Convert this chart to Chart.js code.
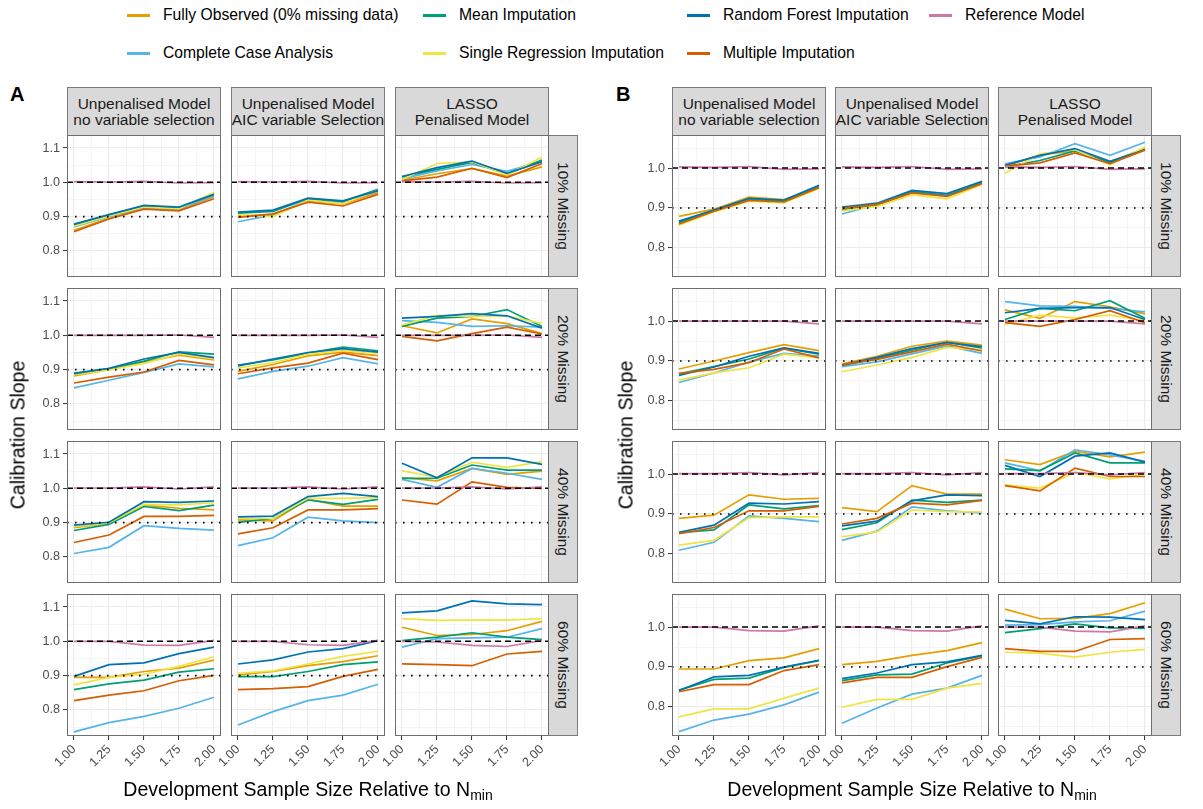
<!DOCTYPE html>
<html>
<head>
<meta charset="utf-8">
<script src="https://cdn.jsdelivr.net/npm/chart.js@4.4.0/dist/chart.umd.min.js"></script>
<style>
  body { margin: 0; background: #fff; font-family: "Liberation Sans", Arial, sans-serif; }
  #fig { position: relative; width: 1203px; height: 809px; overflow: hidden; }
  #fig canvas { position: absolute; }
  .strip { position: absolute; background: #d9d9d9; border: 1px solid #7a7a7a; box-sizing: border-box;
           color: #1a1a1a; font-size: 15.5px; line-height: 16px; text-align: center; white-space: nowrap;
           overflow: hidden; display: flex; align-items: center; justify-content: center; }
  .rstrip span { display: block; transform: rotate(90deg); white-space: nowrap; }
  .txt { position: absolute; white-space: nowrap; color: #000; }
  .key { position: absolute; height: 2.5px; width: 23px; }
</style>
</head>
<body>
<div id="fig"></div>
<script>
// x values and tick labels
const sampleSizes = [1.00, 1.25, 1.50, 1.75, 2.00];
const xMajor = [1.00, 1.25, 1.50, 1.75, 2.00];
const xMinor = [1.125, 1.375, 1.625, 1.875];
const yMajorA = [0.8, 0.9, 1.0, 1.1];
const yMajorB = [0.8, 0.9, 1.0];
const yMinor = [0.75, 0.85, 0.95, 1.05];
const yRangeA = [0.724, 1.138];
const yRangeB = [0.727, 1.083];
const xRange = [0.95, 2.05];
const refLine = 1.0;
const targetLine = 0.9;

const modelLabels = [
  ["Unpenalised Model", "no variable selection"],
  ["Unpenalised Model", "AIC variable Selection"],
  ["LASSO", "Penalised Model"]
];
const missingLabels = ["10% Missing", "20% Missing", "40% Missing", "60% Missing"];
const methods = ["Fully Observed (0% missing data)", "Complete Case Analysis", "Mean Imputation",
  "Single Regression Imputation", "Random Forest Imputation", "Multiple Imputation", "Reference Model"];
const methodColours = ["#E69F00", "#56B4E9", "#009E73", "#F0E442", "#0072B2", "#D55E00", "#CC79A7"];

// each array: 12 facets (10%, 20%, 40%, 60% missing; x 3 models) with 5 sample sizes
// ---- panel A ----
const fullyObsA = [
  [0.860, 0.895, 0.925, 0.920, 0.958], [0.902, 0.905, 0.945, 0.937, 0.970], [1.006, 1.025, 1.040, 1.018, 1.045],
  [0.882, 0.900, 0.922, 0.942, 0.928], [0.895, 0.915, 0.940, 0.951, 0.941], [1.028, 1.007, 1.048, 1.034, 1.005],
  [0.885, 0.898, 0.951, 0.942, 0.937], [0.908, 0.905, 0.968, 0.948, 0.948], [1.031, 1.022, 1.058, 1.041, 1.050],
  [0.895, 0.895, 0.912, 0.922, 0.945], [0.902, 0.912, 0.929, 0.941, 0.958], [1.041, 1.017, 1.020, 1.031, 1.058]
];
const completeCaseA = [
  [0.870, 0.900, 0.927, 0.922, 0.962], [0.885, 0.905, 0.948, 0.940, 0.975], [1.010, 1.033, 1.052, 1.032, 1.062],
  [0.847, 0.869, 0.892, 0.917, 0.908], [0.873, 0.895, 0.910, 0.935, 0.917], [1.043, 1.038, 1.026, 1.028, 1.024],
  [0.810, 0.828, 0.891, 0.883, 0.878], [0.833, 0.856, 0.916, 0.905, 0.900], [1.026, 1.003, 1.058, 1.044, 1.026],
  [0.736, 0.763, 0.781, 0.805, 0.837], [0.756, 0.795, 0.827, 0.843, 0.875], [0.983, 1.008, 1.010, 1.012, 1.037]
];
const meanImpA = [
  [0.876, 0.905, 0.930, 0.925, 0.968], [0.910, 0.915, 0.952, 0.944, 0.980], [1.016, 1.038, 1.058, 1.024, 1.065],
  [0.890, 0.903, 0.925, 0.952, 0.945], [0.913, 0.928, 0.948, 0.966, 0.955], [1.026, 1.050, 1.055, 1.075, 1.026],
  [0.877, 0.895, 0.947, 0.935, 0.951], [0.901, 0.912, 0.966, 0.953, 0.968], [1.029, 1.030, 1.068, 1.053, 1.053],
  [0.859, 0.876, 0.887, 0.910, 0.920], [0.897, 0.897, 0.912, 0.932, 0.940], [1.002, 1.012, 1.025, 1.012, 1.005]
];
const singleRegA = [
  [0.872, 0.902, 0.928, 0.923, 0.970], [0.905, 0.900, 0.948, 0.938, 0.977], [1.008, 1.055, 1.060, 1.022, 1.073],
  [0.885, 0.899, 0.918, 0.946, 0.932], [0.905, 0.920, 0.945, 0.956, 0.948], [1.030, 1.058, 1.055, 1.057, 1.034],
  [0.888, 0.899, 0.953, 0.952, 0.958], [0.912, 0.912, 0.971, 0.971, 0.973], [1.051, 1.033, 1.076, 1.061, 1.078],
  [0.873, 0.895, 0.904, 0.927, 0.955], [0.907, 0.914, 0.934, 0.956, 0.971], [1.066, 1.061, 1.062, 1.062, 1.066]
];
const randomForestA = [
  [0.878, 0.906, 0.933, 0.928, 0.965], [0.913, 0.919, 0.954, 0.946, 0.976], [1.017, 1.043, 1.062, 1.026, 1.060],
  [0.888, 0.904, 0.931, 0.950, 0.935], [0.911, 0.931, 0.950, 0.961, 0.951], [1.050, 1.055, 1.063, 1.057, 1.021],
  [0.893, 0.901, 0.961, 0.959, 0.963], [0.917, 0.919, 0.976, 0.985, 0.976], [1.073, 1.031, 1.089, 1.089, 1.070],
  [0.898, 0.932, 0.937, 0.964, 0.983], [0.934, 0.946, 0.969, 0.979, 1.002], [1.083, 1.089, 1.118, 1.109, 1.107]
];
const multipleImpA = [
  [0.856, 0.893, 0.922, 0.917, 0.952], [0.898, 0.908, 0.942, 0.931, 0.965], [1.004, 1.015, 1.041, 1.014, 1.055],
  [0.861, 0.878, 0.893, 0.927, 0.914], [0.888, 0.905, 0.919, 0.948, 0.929], [0.997, 0.984, 1.005, 1.024, 1.004],
  [0.842, 0.864, 0.918, 0.918, 0.921], [0.867, 0.885, 0.937, 0.937, 0.941], [0.966, 0.954, 1.019, 1.003, 1.000],
  [0.827, 0.843, 0.856, 0.885, 0.901], [0.859, 0.862, 0.868, 0.898, 0.918], [0.934, 0.932, 0.929, 0.963, 0.971]
];
const referenceA = [
  [1.002, 1.001, 1.003, 0.998, 0.999], [1.002, 1.001, 1.003, 0.998, 0.999], [1.002, 1.001, 1.003, 0.998, 0.999],
  [1.000, 1.000, 1.000, 1.001, 0.994], [1.000, 1.000, 1.000, 1.001, 0.994], [1.000, 1.000, 1.000, 1.001, 0.994],
  [1.001, 1.001, 1.004, 0.998, 1.004], [1.001, 1.001, 1.004, 0.998, 1.004], [1.001, 1.001, 1.004, 0.998, 1.004],
  [1.000, 1.000, 0.989, 0.988, 1.003], [1.000, 1.000, 0.990, 0.988, 1.003], [1.000, 0.998, 0.988, 0.985, 1.003]
];
// ---- panel B ----
const fullyObsB = [
  [0.879, 0.897, 0.927, 0.921, 0.951], [0.897, 0.908, 0.939, 0.930, 0.963], [1.005, 1.033, 1.043, 1.015, 1.050],
  [0.880, 0.900, 0.921, 0.941, 0.926], [0.893, 0.912, 0.937, 0.950, 0.940], [1.028, 1.007, 1.049, 1.036, 1.018],
  [0.889, 0.897, 0.948, 0.937, 0.939], [0.916, 0.906, 0.971, 0.950, 0.950], [1.036, 1.024, 1.057, 1.043, 1.055],
  [0.895, 0.895, 0.916, 0.923, 0.946], [0.906, 0.914, 0.929, 0.941, 0.961], [1.045, 1.021, 1.022, 1.034, 1.061]
];
const completeCaseB = [
  [0.862, 0.893, 0.921, 0.917, 0.953], [0.885, 0.909, 0.941, 0.932, 0.965], [1.011, 1.028, 1.061, 1.032, 1.065],
  [0.846, 0.870, 0.897, 0.919, 0.912], [0.886, 0.898, 0.918, 0.938, 0.919], [1.049, 1.038, 1.037, 1.032, 1.023],
  [0.809, 0.829, 0.895, 0.889, 0.881], [0.834, 0.857, 0.918, 0.908, 0.903], [1.028, 1.008, 1.061, 1.048, 1.032],
  [0.738, 0.767, 0.782, 0.805, 0.837], [0.759, 0.797, 0.832, 0.847, 0.879], [1.005, 1.006, 1.013, 1.016, 1.040]
];
const meanImpB = [
  [0.864, 0.894, 0.921, 0.917, 0.955], [0.895, 0.907, 0.941, 0.931, 0.964], [1.003, 1.019, 1.043, 1.013, 1.047],
  [0.868, 0.886, 0.905, 0.932, 0.917], [0.889, 0.906, 0.927, 0.947, 0.932], [1.004, 1.032, 1.026, 1.051, 1.007],
  [0.853, 0.860, 0.923, 0.913, 0.921], [0.861, 0.878, 0.935, 0.929, 0.935], [1.013, 1.009, 1.053, 1.028, 1.028],
  [0.842, 0.869, 0.872, 0.899, 0.916], [0.866, 0.880, 0.882, 0.910, 0.928], [0.986, 0.996, 1.008, 0.998, 0.997]
];
const singleRegB = [
  [0.857, 0.890, 0.917, 0.913, 0.949], [0.893, 0.904, 0.933, 0.923, 0.959], [0.987, 1.036, 1.046, 1.008, 1.053],
  [0.852, 0.870, 0.883, 0.917, 0.908], [0.873, 0.890, 0.909, 0.934, 0.928], [0.992, 1.015, 1.008, 1.015, 1.001],
  [0.822, 0.834, 0.891, 0.893, 0.893], [0.843, 0.855, 0.910, 0.906, 0.905], [0.973, 0.965, 1.004, 0.988, 1.000],
  [0.775, 0.795, 0.795, 0.822, 0.847], [0.799, 0.819, 0.819, 0.847, 0.859], [0.937, 0.935, 0.925, 0.937, 0.944]
];
const randomForestB = [
  [0.867, 0.895, 0.924, 0.920, 0.957], [0.902, 0.912, 0.944, 0.936, 0.967], [1.007, 1.032, 1.049, 1.017, 1.046],
  [0.864, 0.885, 0.912, 0.933, 0.919], [0.890, 0.909, 0.931, 0.946, 0.936], [1.021, 1.032, 1.034, 1.034, 1.004],
  [0.854, 0.872, 0.927, 0.925, 0.931], [0.870, 0.882, 0.933, 0.948, 0.946], [1.022, 0.994, 1.045, 1.053, 1.030],
  [0.841, 0.875, 0.879, 0.900, 0.917], [0.871, 0.885, 0.906, 0.913, 0.929], [1.017, 1.008, 1.026, 1.025, 1.019]
];
const multipleImpB = [
  [0.860, 0.892, 0.919, 0.915, 0.951], [0.899, 0.909, 0.938, 0.929, 0.961], [1.005, 1.013, 1.038, 1.011, 1.045],
  [0.869, 0.879, 0.896, 0.930, 0.908], [0.891, 0.904, 0.923, 0.942, 0.925], [0.996, 0.987, 1.004, 1.026, 0.996],
  [0.851, 0.866, 0.908, 0.908, 0.919], [0.875, 0.889, 0.927, 0.923, 0.934], [0.971, 0.958, 1.015, 0.994, 0.994],
  [0.838, 0.856, 0.856, 0.891, 0.906], [0.860, 0.874, 0.874, 0.901, 0.924], [0.946, 0.939, 0.939, 0.969, 0.971]
];
const referenceB = [
  [1.003, 1.002, 1.004, 0.997, 0.998], [1.003, 1.002, 1.004, 0.997, 0.998], [1.003, 1.002, 1.004, 0.997, 0.998],
  [1.000, 1.000, 1.000, 1.000, 0.993], [1.000, 1.000, 1.000, 1.000, 0.993], [1.000, 1.000, 1.000, 1.000, 0.993],
  [1.001, 1.001, 1.004, 0.998, 1.004], [1.001, 1.001, 1.004, 0.998, 1.004], [1.001, 1.001, 1.004, 0.998, 1.004],
  [1.000, 1.000, 0.991, 0.990, 1.003], [1.000, 1.000, 0.991, 0.990, 1.003], [1.000, 1.000, 0.990, 0.988, 1.003]
];

const seriesA = [fullyObsA, completeCaseA, meanImpA, singleRegA, randomForestA, multipleImpA, referenceA];
const seriesB = [fullyObsB, completeCaseB, meanImpB, singleRegB, randomForestB, multipleImpB, referenceB];

// ---------- layout ----------
const fig = document.getElementById("fig");
const FONT = '"Liberation Sans", Arial, sans-serif';
const ROW_TOP = [135, 288, 441, 594];
const PH = 142, PW = 154;
const panels = {
  A: { cols: [67, 231, 395], stripX: 549, series: seriesA, yRange: yRangeA, yMajor: yMajorA, letterX: 10, yTitleX: 18 },
  B: { cols: [672, 835, 998], stripX: 1152, series: seriesB, yRange: yRangeB, yMajor: yMajorB, letterX: 616, yTitleX: 626 }
};

const near = (list, v) => list.some(t => Math.abs(t - v) < 1e-6);

// box round each facet, like the ggplot panel border
const panelBox = {
  id: "panelBox",
  afterDraw(chart) {
    const { ctx, chartArea: a } = chart;
    ctx.save();
    ctx.strokeStyle = "#6e6e6e";
    ctx.lineWidth = 1;
    ctx.strokeRect(a.left + 0.5, a.top + 0.5, a.width - 1, a.height - 1);
    ctx.restore();
  }
};

function addText(html, css) {
  const d = document.createElement("div");
  d.className = "txt";
  d.innerHTML = html;
  Object.assign(d.style, css);
  fig.appendChild(d);
  return d;
}

function makeFacet(p, r, c) {
  const first = c === 0, bottom = r === 3;
  // room on the left for the y labels, or for the rotated x labels of the bottom row
  const padL = first ? 40 : (bottom ? 32 : 1);
  const padB = bottom ? 46 : 1;
  const cv = document.createElement("canvas");
  cv.width = PW + padL + 1;
  cv.height = PH + padB + 1;
  cv.style.left = (p.cols[c] - padL) + "px";
  cv.style.top = (ROW_TOP[r] - 1) + "px";
  fig.appendChild(cv);

  const idx = r * 3 + c;
  const datasets = p.series.map((s, k) => ({
    label: methods[k],
    data: sampleSizes.map((x, i) => ({ x: x, y: s[idx][i] })),
    borderColor: methodColours[k],
    backgroundColor: methodColours[k],
    borderWidth: 1.7,
    pointRadius: 0,
    tension: 0,
    order: 10 - k
  }));
  datasets.push({
    label: "ref",
    data: [{ x: xRange[0], y: refLine }, { x: xRange[1], y: refLine }],
    borderColor: "#000", borderWidth: 1.5, borderDash: [6, 4], pointRadius: 0, order: 1
  });
  datasets.push({
    label: "target",
    data: [{ x: xRange[0], y: targetLine }, { x: xRange[1], y: targetLine }],
    borderColor: "#000", borderWidth: 1.7, borderDash: [1.6, 6.4], pointRadius: 0, order: 1
  });

  const yAll = p.yMajor.concat(yMinor).filter(v => v >= p.yRange[0] && v <= p.yRange[1]);
  const xAll = xMajor.concat(xMinor);

  new Chart(cv, {
    type: "line",
    data: { datasets },
    options: {
      responsive: false,
      animation: false,
      devicePixelRatio: 1,
      layout: { padding: { left: first ? 0 : padL, right: 1, top: 1, bottom: bottom ? 0 : 1 }, autoPadding: false },
      plugins: { legend: { display: false }, tooltip: { enabled: false } },
      scales: {
        x: {
          type: "linear", min: xRange[0], max: xRange[1],
          afterBuildTicks: s => { s.ticks = xAll.map(v => ({ value: v })); },
          afterFit: s => { s.height = bottom ? 46 : 0; s.paddingLeft = 0; s.paddingRight = 0; },
          border: { display: false },
          grid: {
            color: ctx => near(xMajor, ctx.tick.value) ? "#ebebeb" : "#f2f2f2",
            lineWidth: ctx => near(xMajor, ctx.tick.value) ? 1.1 : 0.8,
            drawTicks: bottom,
            tickLength: 4,
            tickColor: ctx => near(xMajor, ctx.tick.value) ? "#333" : "rgba(0,0,0,0)",
            tickWidth: 1
          },
          ticks: {
            display: bottom, autoSkip: false, minRotation: 45, maxRotation: 45, padding: 2,
            color: "#4d4d4d", font: { family: FONT, size: 12.6 },
            callback: v => near(xMajor, v) ? v.toFixed(2) : ""
          }
        },
        y: {
          type: "linear", min: p.yRange[0], max: p.yRange[1],
          afterBuildTicks: s => { s.ticks = yAll.map(v => ({ value: v })); },
          afterFit: s => { s.width = first ? 40 : 0; s.paddingTop = 0; s.paddingBottom = 0; },
          border: { display: false },
          grid: {
            color: ctx => near(p.yMajor, ctx.tick.value) ? "#ebebeb" : "#f2f2f2",
            lineWidth: ctx => near(p.yMajor, ctx.tick.value) ? 1.1 : 0.8,
            drawTicks: first,
            tickLength: 4,
            tickColor: ctx => near(p.yMajor, ctx.tick.value) ? "#333" : "rgba(0,0,0,0)",
            tickWidth: 1
          },
          ticks: {
            display: first, autoSkip: false, padding: 3,
            color: "#4d4d4d", font: { family: FONT, size: 12.6 },
            callback: v => near(p.yMajor, v) ? v.toFixed(1) : ""
          }
        }
      }
    },
    plugins: [panelBox]
  });
}

for (const key of ["A", "B"]) {
  const p = panels[key];
  // column strips
  p.cols.forEach((x, c) => {
    const s = document.createElement("div");
    s.className = "strip";
    Object.assign(s.style, { left: x + "px", top: "87px", width: PW + "px", height: "49px" });
    s.innerHTML = modelLabels[c].join("<br>");
    fig.appendChild(s);
  });
  // row strips
  ROW_TOP.forEach((y, r) => {
    const s = document.createElement("div");
    s.className = "strip rstrip";
    Object.assign(s.style, { left: (p.stripX - 1) + "px", top: y + "px", width: "30px", height: PH + "px" });
    s.innerHTML = "<span>" + missingLabels[r] + "</span>";
    fig.appendChild(s);
  });
  for (let r = 0; r < 4; r++) for (let c = 0; c < 3; c++) makeFacet(p, r, c);

  addText(key, { left: p.letterX + "px", top: "83px", fontSize: "20px", fontWeight: "bold" });
  addText("Calibration Slope", { left: p.yTitleX + "px", top: "435px", fontSize: "19.5px",
    transform: "translate(-50%,-50%) rotate(-90deg)" });
  const mid = (p.cols[0] + p.stripX) / 2;
  addText("Development Sample Size Relative to N<sub style=\"font-size:14px;vertical-align:-4px\">min</sub>",
    { left: mid + "px", top: "790px", fontSize: "19.5px", transform: "translate(-50%,-50%)" });
}

// legend, filled column by column in two rows like ggplot
const legendX = [127, 423, 687, 929];
const legendY = [15, 53];
methods.forEach((m, k) => {
  const col = Math.floor(k / 2), row = k % 2;
  const key = document.createElement("div");
  key.className = "key";
  Object.assign(key.style, { left: legendX[col] + "px", top: (legendY[row] - 1) + "px", background: methodColours[k] });
  fig.appendChild(key);
  addText(m, { left: (legendX[col] + 36) + "px", top: legendY[row] + "px", fontSize: "15.7px", transform: "translateY(-50%)" });
});
</script>
</body>
</html>
